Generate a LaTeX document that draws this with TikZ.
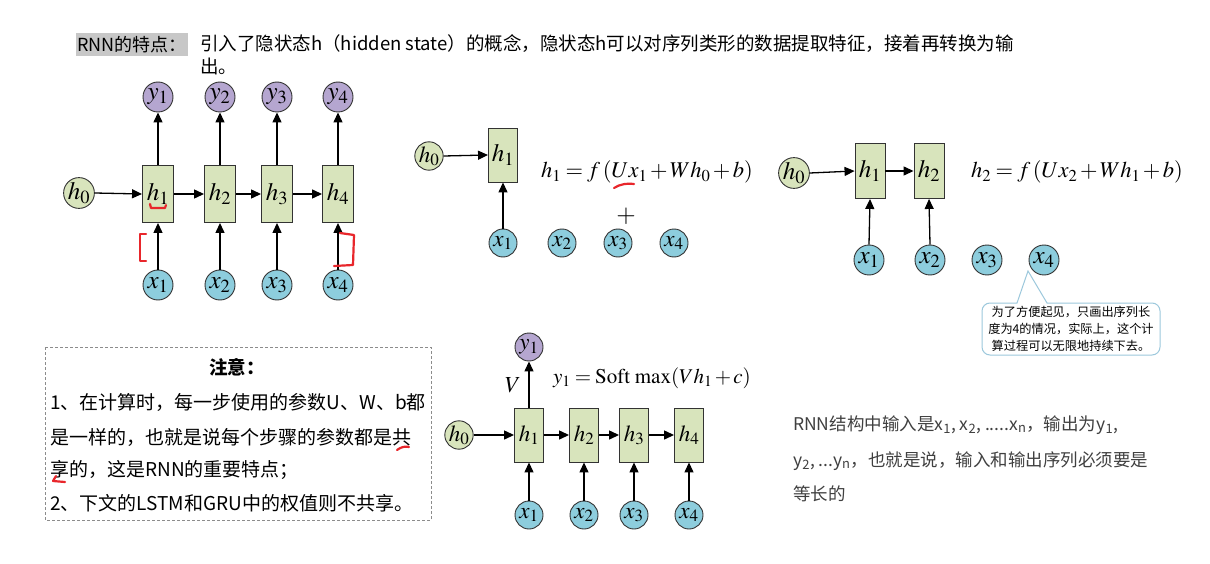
\documentclass[tikz,border=0pt]{standalone}
\usepackage{mathptmx}
\usepackage[no-math]{fontspec}
\setmainfont{Noto Sans CJK SC}
\usetikzlibrary{arrows.meta}
\definecolor{hgreen}{HTML}{D8E4BC}
\definecolor{ypurple}{HTML}{B5A6D0}
\definecolor{xblue}{HTML}{8DCDDD}
\definecolor{edge}{HTML}{333333}
\definecolor{calloutc}{HTML}{9CC8DC}
\definecolor{annot}{HTML}{E8262B}
\definecolor{softtext}{HTML}{404040}
\newcommand{\tightmath}{\thickmuskip=3.5mu\medmuskip=2mu\relax}
\tikzset{
  mathfont/.style={font=\fontsize{25}{28}\selectfont},
  smallmath/.style={font=\fontsize{23}{26}\selectfont},
  eqfont/.style={font=\fontsize{22.5}{26}\selectfont\tightmath},
  eqsmall/.style={font=\fontsize{21}{24}\selectfont\tightmath},
  hbox/.style={rectangle, draw=edge, line width=0.9pt, fill=hgreen, minimum width=31pt, minimum height=57pt, inner sep=0pt, mathfont},
  hboxs/.style={hbox, minimum width=29pt, minimum height=54pt, smallmath},
  circbase/.style={circle, draw=edge, line width=0.9pt, minimum size=30pt, inner sep=0pt, mathfont},
  hcirc/.style={circbase, fill=hgreen},
  ycirc/.style={circbase, fill=ypurple},
  xcirc/.style={circbase, fill=xblue},
  scirc/.style={minimum size=28pt, smallmath},
  arr/.style={draw=black, line width=1.3pt, -{Triangle[length=10pt,width=9pt]}},
  redmark/.style={draw=annot, line width=2.2pt, line cap=round, line join=round},
  cjktext/.style={inner sep=0pt, anchor=west, text=black},
}
\begin{document}
\begin{tikzpicture}[x=1pt,y=-1pt]
\useasboundingbox (0,0) rectangle (1210,564);
\fill[white] (0,0) rectangle (1210,564);

% ---------- header ----------
\node[fill=black!22, minimum width=112pt, minimum height=23pt, inner sep=0pt,
      font=\fontsize{18}{22}\selectfont] (hdr) at (132,45) {RNN的特点：};
\node[cjktext, font=\fontsize{18.5}{22}\selectfont] (hdr1) at (200,44)
  {引入了隐状态h（hidden state）的概念，隐状态h可以对序列类形的数据提取特征，接着再转换为输};
\node[cjktext, font=\fontsize{18.5}{22}\selectfont] (hdr2) at (200,66) {出。};

% ---------- diagram 1 ----------
\node[hcirc] (a0) at (79,193) {$h_0$};
\foreach \i/\x in {1/158,2/220,3/277,4/338}{
  \node[hbox] (ah\i) at (\x,194) {$h_\i$};
  \node[ycirc] (ay\i) at (\x,97) {$y_\i$};
  \node[xcirc] (ax\i) at (\x,285) {$x_\i$};
  \draw[arr] (ah\i.north) -- (ay\i.south);
  \draw[arr] (ax\i.north) -- (ah\i.south);
}
\draw[arr] (a0.east) -- (ah1.west);
\draw[arr] (ah1.east) -- (ah2.west);
\draw[arr] (ah2.east) -- (ah3.west);
\draw[arr] (ah3.east) -- (ah4.west);
% red annotations
\draw[redmark] (150,204) -- (151,208) -- (165,208) -- (166,205);
\draw[redmark] (146,234) -- (140,234) -- (140,261) -- (146,261);
\draw[redmark] (340,233) -- (354,235) -- (353,265) -- (334,266);

% ---------- diagram 2 ----------
\node[hcirc, scirc] (b0) at (429,156) {$h_0$};
\node[hbox, minimum width=29pt, minimum height=54pt] (bh1) at (503,155) {$h_1$};
\draw[arr] (b0.east) -- (bh1.west);
\foreach \i/\x in {1/503,2/562,3/618,4/674}{
  \node[xcirc, scirc] (bx\i) at (\x,243) {$x_\i$};
}
\draw[arr] (bx1.north) -- (bh1.south);
\node[eqfont] (beq) at (647,172) {$h_1 = f\,(Ux_1 + Wh_0 + b)$};
\node[mathfont] (bplus) at (626,216) {$+$};
\draw[redmark] (614,188) .. controls (620,184) and (628,183) .. (634,184);

% ---------- diagram 3 ----------
\node[hcirc] (c0) at (794,173) {$h_0$};
\node[hbox, minimum width=30pt, minimum height=55pt] (ch1) at (870,171) {$h_1$};
\node[hbox, minimum width=30pt, minimum height=55pt] (ch2) at (929,171) {$h_2$};
\draw[arr] (c0.east) -- (ch1.west);
\draw[arr] (ch1.east) -- (ch2.west);
\foreach \i/\x in {1/869,2/930,3/987,4/1044}{
  \node[xcirc] (cx\i) at (\x,260) {$x_\i$};
}
\draw[arr] (cx1.north) -- (ch1.south);
\draw[arr] (cx2.north) -- (ch2.south);
\node[eqfont] (ceq) at (1077,172) {$h_2 = f\,(Ux_2 + Wh_1 + b)$};
% callout
\coordinate (ctip) at (1028,271);
\draw[calloutc, line width=1pt, fill=white]
  (1047,303) [rounded corners=8pt] -- (1160,303) -- (1160,355) -- (982,355) -- (982,303) [sharp corners] -- (1017,303) -- (ctip) -- cycle;
\node[align=center, inner sep=0pt, font=\fontsize{12.2}{17}\selectfont] (cnote) at (1071,329)
  {为了方便起见，只画出序列长\\度为4的情况，实际上，这个计\\算过程可以无限地持续下去。};

% ---------- note box ----------
\draw[black!45, densely dashed, line width=0.6pt] (45,347) rectangle (431,520);
\node[inner sep=0pt, font=\fontsize{18.5}{22}\selectfont\bfseries] (ntitle) at (237,367) {注意：};
\node[cjktext, font=\fontsize{19}{23}\selectfont] (n1) at (50,402) {1、在计算时，每一步使用的参数U、W、b都};
\node[cjktext, font=\fontsize{19}{23}\selectfont] (n2) at (50,437) {是一样的，也就是说每个步骤的参数都是共};
\node[cjktext, font=\fontsize{19}{23}\selectfont] (n3) at (50,470) {享的，这是RNN的重要特点；};
\node[cjktext, font=\fontsize{19}{23}\selectfont] (n4) at (50,503) {2、下文的LSTM和GRU中的权值则不共享。};
\draw[redmark] (397,450) .. controls (401,447) and (405,446) .. (409,447);
\draw[redmark] (56,476) -- (53,481) -- (65,482);

% ---------- diagram 4 ----------
\node[hcirc, scirc] (d0) at (459,435) {$h_0$};
\node[ycirc, scirc] (dy1) at (529,347) {$y_1$};
\foreach \i/\x in {1/529,2/584,3/634,4/689}{
  \node[hboxs] (dh\i) at (\x,435) {$h_\i$};
  \node[xcirc, scirc] (dx\i) at (\x,515) {$x_\i$};
  \draw[arr] (dx\i.north) -- (dh\i.south);
}
\draw[arr] (d0.east) -- (dh1.west);
\draw[arr] (dh1.east) -- (dh2.west);
\draw[arr] (dh2.east) -- (dh3.west);
\draw[arr] (dh3.east) -- (dh4.west);
\draw[arr] (dh1.north) -- (dy1.south);
\node[smallmath] (dV) at (513,385) {$V$};
\node[eqsmall] (deq) at (652,378) {$y_1 = \mathrm{Soft\ max}(Vh_1 + c)$};

% ---------- bottom right text ----------
\node[cjktext, text=softtext, font=\fontsize{17.5}{21}\selectfont] (r1) at (793,425)
  {RNN结构中输入是x\textsubscript{1}, x\textsubscript{2}, .....x\textsubscript{n}，输出为y\textsubscript{1},};
\node[cjktext, text=softtext, font=\fontsize{17.5}{21}\selectfont] (r2) at (793,461)
  {y\textsubscript{2}, ...y\textsubscript{n}，也就是说，输入和输出序列必须要是};
\node[cjktext, text=softtext, font=\fontsize{17.5}{21}\selectfont] (r3) at (793,494) {等长的};
\end{tikzpicture}
\end{document}
